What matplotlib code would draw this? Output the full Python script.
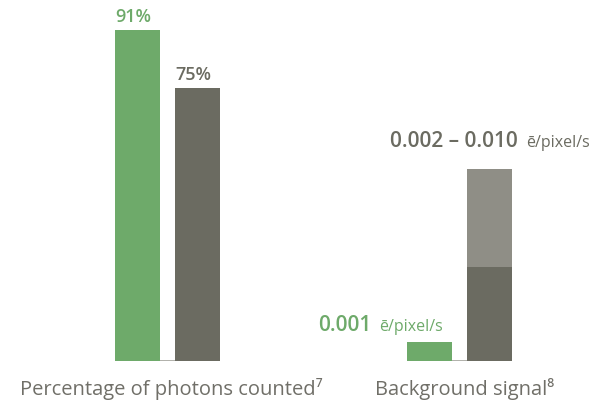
import matplotlib
matplotlib.use("Agg")
from matplotlib import pyplot as plt

# %%
# Data
categories = ['Percentage of photons counted\u2077', 'Background signal\u2078']
photon_values = [91, 75]            # green, gray
photon_labels = ['91%', '75%']
bg_green = 0.001
bg_gray_low = 0.0049                # dark part of the gray bar
bg_gray_high = 0.010                # top of the light part
bg_green_label = '0.001'
bg_gray_label = '0.002 \u2013 0.010'
unit_label = '\u0113/pixel/s'

# %%
green = '#6eaa6a'
dark = '#6b6b61'
light = '#8f8e86'
text_gray = '#6b6b61'
fam = ['Open Sans', 'DejaVu Sans']

W, H = 595, 402
DPI = 100
fig = plt.figure(figsize=(W / DPI, H / DPI), dpi=DPI)


def px_axes(x0, y_top, x1, y_bot):
    return fig.add_axes([x0 / W, 1 - y_bot / H, (x1 - x0) / W, (y_bot - y_top) / H])


ax1 = px_axes(115, -2, 220, 362)
ax2 = px_axes(407, 170, 512, 362)

width = 0.75
for ax in (ax1, ax2):
    ax.set_xlim(-width / 2, 1 + width / 2)
    ax.axis('off')

# Group 1: photons counted
ax1.set_ylim(0, 100)
ax1.bar([0, 1], photon_values, width=width, color=[green, dark], zorder=2)
ax1.axhline(0, color='#a3a39c', lw=1.2, zorder=1)
for i, (v, lab) in enumerate(zip(photon_values, photon_labels)):
    ax1.annotate(lab, xy=(i - width / 2, v), xytext=(0, 6.5),
                 textcoords='offset points', ha='left', va='baseline',
                 fontsize=13, fontweight='semibold', family=fam,
                 color=green if i == 0 else text_gray, annotation_clip=False)

# Group 2: background signal
ax2.set_ylim(0, bg_gray_high)
ax2.bar([0], [bg_green], width=width, color=green, zorder=2)
ax2.bar([1], [bg_gray_low], width=width, color=dark, zorder=2)
ax2.bar([1], [bg_gray_high - bg_gray_low], bottom=[bg_gray_low], width=width,
        color=light, zorder=2)
ax2.axhline(0, color='#a3a39c', lw=1.2, zorder=1)


def value_with_unit(ax, label, xy, offset, color):
    # bold value, then the unit in regular type on the same baseline
    t = ax.annotate(label, xy=xy, xytext=offset, textcoords='offset points',
                    ha='right', va='baseline', fontsize=15, fontweight='semibold',
                    family=fam, color=color, annotation_clip=False)
    ax.annotate(unit_label, xy=xy, xytext=(offset[0] + 6, offset[1]),
                textcoords='offset points', ha='left', va='baseline',
                fontsize=11.5, family=fam, color=color, annotation_clip=False)
    return t


value_with_unit(ax2, bg_green_label, (-width / 2, bg_green), (-26, 8.5), green)
value_with_unit(ax2, bg_gray_label, (1 + width / 2, bg_gray_high), (4.5, 16.5), text_gray)

# Category labels
for ax, cat, dx in zip((ax1, ax2), categories, (2.5, 3.5)):
    ax.annotate(cat, xy=(0.5, 0), xycoords='axes fraction', xytext=(dx, -24),
                textcoords='offset points', ha='center', va='baseline',
                fontsize=14.5, family=fam, color='#706f68', annotation_clip=False)

fig.savefig('out.png', dpi=DPI)
